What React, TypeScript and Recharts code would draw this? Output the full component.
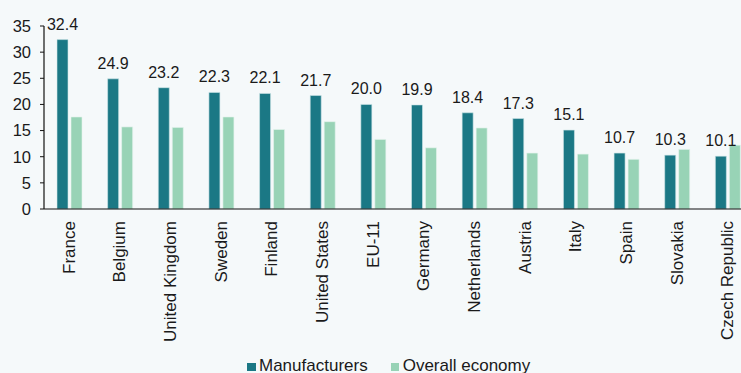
import { BarChart, Bar, XAxis, YAxis, LabelList, Legend } from "recharts";

// country groups, in chart order
const countries = [
  "France",
  "Belgium",
  "United Kingdom",
  "Sweden",
  "Finland",
  "United States",
  "EU-11",
  "Germany",
  "Netherlands",
  "Austria",
  "Italy",
  "Spain",
  "Slovakia",
  "Czech Republic",
];
const manufacturers = [32.4, 24.9, 23.2, 22.3, 22.1, 21.7, 20.0, 19.9, 18.4, 17.3, 15.1, 10.7, 10.3, 10.1];
const overallEconomy = [17.6, 15.7, 15.6, 17.6, 15.2, 16.7, 13.3, 11.7, 15.5, 10.7, 10.5, 9.5, 11.4, 12.2];
const yTicks = [0, 5, 10, 15, 20, 25, 30, 35];

const DARK = "#1b7885";
const LIGHT = "#98d3b6";
const BG = "#f5f9fa";
const FONT = "'Liberation Sans', Arial, sans-serif";

const chartData = countries.map((name, i) => ({
  name,
  manufacturers: manufacturers[i],
  overall: overallEconomy[i],
}));

// boundaries between categories, for the small tick marks on the x axis
const boundaryTicks = [...countries.map((_, i) => i), countries.length];

function CountryTick(props: any) {
  const { x, y, payload } = props;
  return (
    <text
      x={x}
      y={y}
      transform={`rotate(-90, ${x}, ${y})`}
      textAnchor="end"
      dominantBaseline="central"
      fontSize={17}
      fontFamily={FONT}
      fill="#1a1a1a"
    >
      {payload.value}
    </text>
  );
}

function LegendContent(props: any) {
  const { payload } = props;
  return (
    <div style={{ display: "flex", fontFamily: FONT, fontSize: 17, color: "#1a1a1a", whiteSpace: "nowrap" }}>
      {payload.map((p: any, i: number) => (
        <div
          key={p.value}
          style={{ display: "flex", alignItems: "center", marginRight: i === 0 ? 23 : 0 }}
        >
          <span
            style={{
              display: "inline-block",
              width: 8.5,
              height: 8.5,
              background: p.color,
              marginRight: 3.5,
              marginTop: 2,
            }}
          />
          <span>{p.value}</span>
        </div>
      ))}
    </div>
  );
}

export default function App() {
  return (
    <div
      style={{
        position: "fixed",
        top: 0,
        left: 0,
        width: 741,
        height: 373,
        overflow: "hidden",
        background: BG,
      }}
    >
      <BarChart
        width={757}
        height={373}
        data={chartData}
        margin={{ top: 26, right: 4, left: 0, bottom: 0 }}
        barSize={11}
        barGap={3}
      >
        <XAxis
          xAxisId="bounds"
          type="number"
          domain={[0, countries.length]}
          ticks={boundaryTicks}
          tick={false}
          axisLine={false}
          tickLine={{ stroke: "#111", strokeWidth: 1.2 }}
          tickSize={4}
          height={0}
        />
        <XAxis
          dataKey="name"
          interval={0}
          height={164}
          tickLine={false}
          tickSize={4}
          tickMargin={8}
          axisLine={{ stroke: "#111", strokeWidth: 1.2 }}
          tick={<CountryTick />}
        />
        <YAxis
          width={44}
          domain={[0, 35]}
          ticks={yTicks}
          interval={0}
          tickSize={4}
          tickMargin={9}
          axisLine={{ stroke: "#111", strokeWidth: 1.2 }}
          tickLine={{ stroke: "#111" }}
          tick={{ fontSize: 16.5, fontFamily: FONT, fill: "#1a1a1a" }}
        />
        <Legend
          verticalAlign="middle"
          align="center"
          wrapperStyle={{ top: 356, left: 247, width: "auto" }}
          content={<LegendContent />}
        />
        <Bar
          dataKey="manufacturers"
          name="Manufacturers"
          fill={DARK}
          stroke="#cfe6e8"
          strokeOpacity={0.6}
          strokeWidth={1}
          isAnimationActive={false}
        >
          <LabelList
            dataKey="manufacturers"
            position="top"
            offset={10}
            formatter={(v: any) => Number(v).toFixed(1)}
            style={{ fontSize: 16, fontFamily: FONT, fill: "#1a1a1a" }}
          />
        </Bar>
        <Bar
          dataKey="overall"
          name="Overall economy"
          fill={LIGHT}
          stroke="#e4f4ec"
          strokeOpacity={0.6}
          strokeWidth={1}
          isAnimationActive={false}
        />
      </BarChart>
    </div>
  );
}
